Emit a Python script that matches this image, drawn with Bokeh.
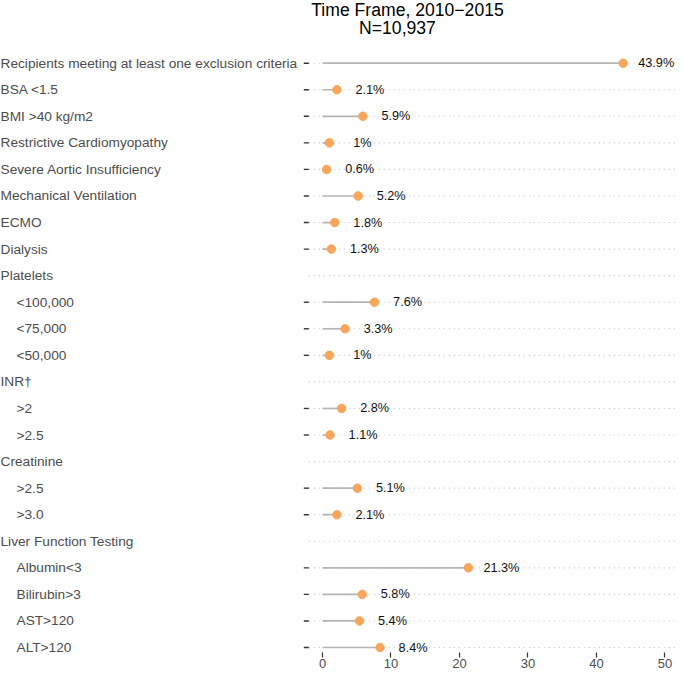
from bokeh.plotting import figure
from bokeh.models import Range1d, FixedTicker, ColumnDataSource, Label
from bokeh.core.properties import value
from bokeh.embed import file_html
from bokeh.resources import INLINE

# ---- data ----
categories = [
    "Recipients meeting at least one exclusion criteria",
    "BSA <1.5",
    "BMI >40 kg/m2",
    "Restrictive Cardiomyopathy",
    "Severe Aortic Insufficiency",
    "Mechanical Ventilation",
    "ECMO",
    "Dialysis",
    "Platelets",
    "<100,000",
    "<75,000",
    "<50,000",
    "INR†",
    ">2",
    ">2.5",
    "Creatinine",
    ">2.5",
    ">3.0",
    "Liver Function Testing",
    "Albumin<3",
    "Bilirubin>3",
    "AST>120",
    "ALT>120",
]
percent = [43.9, 2.1, 5.9, 1.0, 0.6, 5.2, 1.8, 1.3, None, 7.6, 3.3, 1.0,
           None, 2.8, 1.1, None, 5.1, 2.1, None, 21.3, 5.8, 5.4, 8.4]
level = [0, 0, 0, 0, 0, 0, 0, 0, 0, 1, 1, 1, 0, 1, 1, 0, 1, 1, 0, 1, 1, 1, 1]
x_ticks = [0, 10, 20, 30, 40, 50]
title_lines = ["Time Frame, 2010\u22122015", "N=10,937"]

# ---- layout constants ----
FONT = "Liberation Sans"
FW, FH = 675, 652
X0, X1 = -47.007, 51.533
PANEL_LEFT = -2.0
TICK_X = -2.365
Y_BOTTOM, Y_TOP = 22.188, -2.360

rows = list(range(len(categories)))

p = figure(frame_width=FW, frame_height=FH, output_backend="svg",
           toolbar_location=None, y_axis_location=None,
           x_range=Range1d(X0, X1), y_range=Range1d(Y_BOTTOM, Y_TOP),
           min_border_left=0, min_border_right=0, min_border_top=0,
           min_border_bottom=0)
p.extra_x_ranges = {"px": Range1d(0, FW)}
p.outline_line_color = None
p.xgrid.visible = False
p.ygrid.visible = False
p.background_fill_color = "white"
p.border_fill_color = "white"

# dotted grid lines on every row
grid = ColumnDataSource(dict(x0=[PANEL_LEFT] * len(rows), x1=[X1] * len(rows), y=rows))
p.segment(x0="x0", y0="y", x1="x1", y1="y", source=grid,
          line_color="#C4C4C4", line_width=1.1, line_dash="1 4")

# data rows only
dy = [r for r, v in zip(rows, percent) if v is not None]
dv = [v for v in percent if v is not None]
dl = [f"{v:g}%" for v in dv]
src = ColumnDataSource(dict(y=dy, v=dv, zero=[0] * len(dv), lab=dl,
                            tx=[TICK_X] * len(dv)))

# y-axis ticks on data rows
p.scatter(x="tx", y="y", source=src, marker="dash", size=5, angle=0,
          line_color="#333333", line_width=1.4)

p.segment(x0="zero", y0="y", x1="v", y1="y", source=src,
          line_color="#B5B5B5", line_width=1.7)
p.scatter(x="v", y="y", source=src, size=8.5, fill_color="#F7A65B",
          line_color="#F7A65B")
p.text(x="v", y="y", text="lab", source=src, x_offset=33,
       text_align="center", text_baseline="middle",
       text_font=value(FONT), text_font_size="12.7px", text_color="#111111")

# category labels
lsrc = ColumnDataSource(dict(x=[0 if l == 0 else 16 for l in level],
                             y=rows, t=categories))
p.text(x="x", y="y", text="t", source=lsrc, x_range_name="px",
       text_align="left", text_baseline="middle",
       text_font=value(FONT), text_font_size="13.7px", text_color="#4D4D4D")

# title
for line, xx, yy in zip(title_lines, [407, 397], [-2.021, -1.343]):
    p.add_layout(Label(x=xx, y=yy, x_range_name="px", text=line,
                       text_align="center", text_baseline="alphabetic",
                       text_font=FONT, text_font_size="17.6px",
                       text_color="#000000"))

# x axis
ax = p.xaxis[0]
ax.ticker = FixedTicker(ticks=x_ticks)
ax.axis_line_color = None
ax.major_tick_line_color = "#333333"
ax.major_tick_line_width = 1.2
ax.major_tick_out = 5
ax.major_tick_in = 0
ax.minor_tick_line_color = None
ax.major_label_standoff = 1
ax.major_label_text_font = FONT
ax.major_label_text_font_size = "13px"
ax.major_label_text_color = "#4D4D4D"

open("out.html", "w").write(file_html(p, INLINE))
